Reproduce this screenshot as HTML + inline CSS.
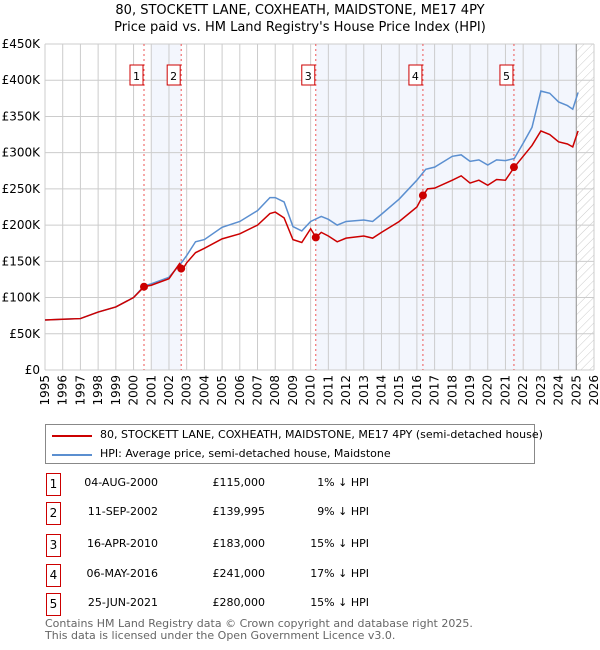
<!DOCTYPE html>
<html><head><meta charset="utf-8"><style>
body{margin:0;background:#fff;font-family:"DejaVu Sans","Liberation Sans",sans-serif;}
#wrap{position:relative;width:600px;height:650px;overflow:hidden;}
.t{position:absolute;font-size:12px;color:#000;white-space:nowrap;}
.box{position:absolute;border:1px solid #c00;width:13px;height:21px;text-align:center;line-height:21px;font-size:12px;}
</style></head><body><div id="wrap">
<div class="t" style="left:0;width:600px;text-align:center;top:2px;font-size:13px;line-height:17px">80, STOCKETT LANE, COXHEATH, MAIDSTONE, ME17 4PY<br>Price paid vs. HM Land Registry's House Price Index (HPI)</div>
<svg id="chart" width="600" height="410" style="position:absolute;left:0;top:0">
<defs><pattern id="hatch" width="6" height="6" patternUnits="userSpaceOnUse" patternTransform="rotate(45)"><line x1="0" y1="0" x2="0" y2="6" stroke="#ccc" stroke-width="1"/></pattern></defs>
<g id="g"></g></svg>
<div style="position:absolute;left:45px;top:424px;width:488px;height:38px;border:1px solid #888;">
<div style="position:absolute;left:6px;top:10px;width:40px;height:2px;background:#c00"></div>
<div class="t" style="left:54px;top:3px;font-size:11px">80, STOCKETT LANE, COXHEATH, MAIDSTONE, ME17 4PY (semi-detached house)</div>
<div style="position:absolute;left:6px;top:29px;width:40px;height:2px;background:#5b8fd0"></div>
<div class="t" style="left:54px;top:22px;font-size:11px">HPI: Average price, semi-detached house, Maidstone</div>
</div>
<div id="table"></div>
<div class="t" style="left:45px;top:618px;font-size:11px;color:#666;line-height:12px">Contains HM Land Registry data © Crown copyright and database right 2025.<br>This data is licensed under the Open Government Licence v3.0.</div>
</div>
<script>
const hpiYears=[1995,1996,1997,1998,1999,2000,2000.6,2001,2002,2002.7,2003,2003.5,2004,2005,2006,2007,2007.7,2008,2008.5,2009,2009.5,2010,2010.6,2011,2011.5,2012,2013,2013.5,2014,2015,2016,2016.5,2017,2018,2018.5,2019,2019.5,2020,2020.5,2021,2021.5,2022,2022.5,2023,2023.5,2024,2024.5,2024.8,2025.1];
const hpiValues=[69,70,71,80,87,100,116,119,128,148,158,177,180,197,205,220,238,238,232,198,192,205,212,208,200,205,207,205,215,236,262,277,280,295,297,288,290,283,290,289,292,313,335,385,382,370,365,360,383];
const propYears=[1995,1996,1997,1998,1999,2000,2000.6,2001,2002,2002.6,2002.8,2003,2003.5,2004,2005,2006,2007,2007.7,2008,2008.5,2009,2009.5,2010,2010.3,2010.6,2011,2011.5,2012,2013,2013.5,2014,2015,2016,2016.35,2016.6,2017,2018,2018.5,2019,2019.5,2020,2020.5,2021,2021.5,2022,2022.5,2023,2023.5,2024,2024.5,2024.8,2025.1];
const propValues=[69,70,71,80,87,100,115,117,126,147,140,148,162,168,181,188,200,216,218,210,180,176,195,183,190,185,177,182,185,182,190,205,225,241,250,251,262,268,258,262,255,263,262,280,295,310,330,325,315,312,308,330];
const saleYears=[2000.59,2002.69,2010.29,2016.34,2021.48];
const salePrices=[115000,139995,183000,241000,280000];
const saleDates=["04-AUG-2000","11-SEP-2002","16-APR-2010","06-MAY-2016","25-JUN-2021"];
const salePct=["1%","9%","15%","17%","15%"];
const yTicks=[0,50,100,150,200,250,300,350,400,450];
const xTicks=[1995,1996,1997,1998,1999,2000,2001,2002,2003,2004,2005,2006,2007,2008,2009,2010,2011,2012,2013,2014,2015,2016,2017,2018,2019,2020,2021,2022,2023,2024,2025,2026];
const X0=45,X1=594,Y0=370,Y1=44;
const x=v=>X0+(v-1995)/31*(X1-X0);
const y=v=>Y0-v/450*(Y0-Y1);
const NS="http://www.w3.org/2000/svg";const g=document.getElementById('g');
function el(t,a,p){const e=document.createElementNS(NS,t);for(const k in a)e.setAttribute(k,a[k]);(p||g).appendChild(e);return e;}
let e;
e=el('rect',{x:x(2001),y:Y1,width:x(saleYears[1])-x(2001),height:Y0-Y1,fill:'#f3f6fd'});

e=el('rect',{x:x(saleYears[2]),y:Y1,width:x(2025)-x(saleYears[2]),height:Y0-Y1,fill:'#f3f6fd'});

e=el('rect',{x:x(2025),y:Y1,width:X1-x(2025),height:Y0-Y1,fill:'url(#hatch)'});

xTicks.forEach(t=>{e=el('line',{x1:x(t),x2:x(t),y1:Y1,y2:Y0,stroke:'#ccc'});

e=el('text',{transform:`translate(${x(t)+4},${Y0+5}) rotate(-90)`,'text-anchor':'end','font-size':12,'font-family':'DejaVu Sans,sans-serif'});e.textContent=t;
});
yTicks.forEach(t=>{e=el('line',{x1:X0,x2:X1,y1:y(t),y2:y(t),stroke:'#ccc'});

e=el('text',{x:X0-5,y:y(t)+4,'text-anchor':'end','font-size':12,'font-family':'DejaVu Sans,sans-serif'});e.textContent=t===0?'£0':'£'+t+'K';
});
e=el('line',{x1:x(2025),x2:x(2025),y1:Y1,y2:Y0,stroke:'#999'});

saleYears.forEach((s,i)=>{e=el('line',{x1:x(s),x2:x(s),y1:Y1,y2:Y0,stroke:'#e55','stroke-dasharray':'2,3'});

e=el('rect',{x:x(s)-14,y:65,width:13,height:20,fill:'#fff',stroke:'#c00'});

e=el('text',{x:x(s)-7.5,y:80,'text-anchor':'middle','font-size':11,'font-family':'DejaVu Sans,sans-serif'});e.textContent=i+1;
});
e=el('polyline',{points:hpiYears.map((v,i)=>x(v)+','+y(hpiValues[i])).join(' '),fill:'none',stroke:'#5b8fd0','stroke-width':1.5});

e=el('polyline',{points:propYears.map((v,i)=>x(v)+','+y(propValues[i])).join(' '),fill:'none',stroke:'#c00','stroke-width':1.5});

saleYears.forEach((s,i)=>{e=el('circle',{cx:x(s),cy:y(salePrices[i]/1000),r:4,fill:'#c00'});
});
const tb=document.getElementById('table');
const rowY=[473,502,534,564,593];
saleDates.forEach((d,i)=>{const top=rowY[i];
let b=document.createElement('div');b.className='box';b.style.left='46px';b.style.top=top+'px';b.textContent=i+1;
tb.appendChild(b);
[[d,158],['£'+salePrices[i].toLocaleString('en-GB'),265],[salePct[i]+' ↓ HPI',369]].forEach(([txt,r])=>{
const t=document.createElement('div');t.className='t';t.style.right=(600-r)+'px';t.style.top=(top+3)+'px';t.style.fontSize='11px';t.textContent=txt;
tb.appendChild(t);});});
</script></body></html>
